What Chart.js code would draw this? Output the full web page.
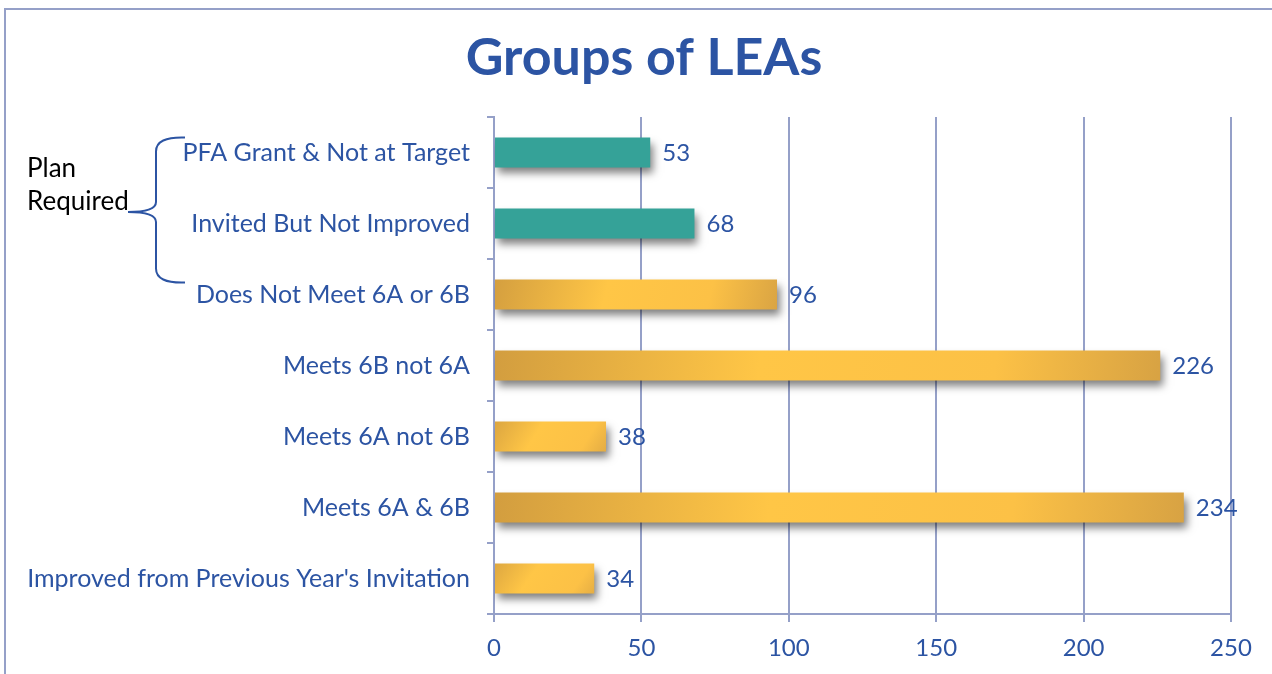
<!DOCTYPE html>
<html>
<head>
<meta charset="utf-8">
<script src="https://cdn.jsdelivr.net/npm/chart.js@4"></script>
<style>
  body { margin: 0; background: #fff; }
  #frame { position: absolute; left: 4px; top: 8px; width: 1268px; height: 666px;
           border-top: 2px solid #95a0c8; border-left: 2px solid #95a0c8; }
  #grafico { position: absolute; left: 0; top: 0; }
</style>
</head>
<body>
<div id="frame"></div>
<canvas id="grafico" width="1272" height="674"></canvas>
<script>
// Datos del gráfico
const titulo = 'Groups of LEAs';
const categorias = [
    'PFA Grant & Not at Target',
    'Invited But Not Improved',
    'Does Not Meet 6A or 6B',
    'Meets 6B not 6A',
    'Meets 6A not 6B',
    'Meets 6A & 6B',
    "Improved from Previous Year's Invitation"
];
const valores = [53, 68, 96, 226, 38, 234, 34];
const grupoPlan = [true, true, false, false, false, false, false]; // barras verdes
const ticksX = [0, 50, 100, 150, 200, 250];

const azul = '#2c54a3';
const rejilla = '#95a0c8';
const fuente = 'Lato, "Open Sans", sans-serif';

function colorBarra(ctx) {
    const chart = ctx.chart;
    if (grupoPlan[ctx.dataIndex]) return '#35a298';
    if (!chart.chartArea) return '#fcc247';
    const x = chart.scales.x, y = chart.scales.y;
    const x0 = x.getPixelForValue(0);
    const x1 = x.getPixelForValue(valores[ctx.dataIndex]);
    const yc = y.getPixelForValue(ctx.dataIndex);
    const g = chart.ctx.createLinearGradient(x0, yc - 35, x1, yc + 35);
    g.addColorStop(0, '#d29d3f');
    g.addColorStop(0.4, '#ffc646');
    g.addColorStop(0.75, '#fcc146');
    g.addColorStop(1, '#d7a243');
    return g;
}

// sombra de las barras
const sombra = {
    id: 'sombra',
    beforeDatasetDraw(chart) {
        const c = chart.ctx;
        c.save();
        c.shadowColor = 'rgba(0,0,0,0.5)';
        c.shadowBlur = 8;
        c.shadowOffsetX = 3;
        c.shadowOffsetY = 6;
    },
    afterDatasetDraw(chart) {
        chart.ctx.restore();
    }
};

// etiquetas de valor y título
const etiquetas = {
    id: 'etiquetas',
    afterDatasetsDraw(chart) {
        const c = chart.ctx;
        const meta = chart.getDatasetMeta(0);
        c.save();
        c.font = '24px ' + fuente;
        c.fillStyle = azul;
        c.textAlign = 'left';
        c.textBaseline = 'middle';
        meta.data.forEach((bar, i) => {
            c.fillText(String(valores[i]), bar.x + 12, bar.y + 1);
        });
        c.font = 'bold 52px ' + fuente;
        c.textAlign = 'center';
        c.fillText(titulo, 644, 58);
        c.restore();
    }
};

// llave "Plan Required"
const llave = {
    id: 'llave',
    afterDraw(chart) {
        const c = chart.ctx;
        const y = chart.scales.y;
        const top = y.getPixelForValue(0) - 15;
        const bot = y.getPixelForValue(2) - 12;
        const mid = (top + bot) / 2 + 2;
        const xt = 185, xv = 156, xm = 128;
        c.save();
        c.strokeStyle = azul;
        c.lineWidth = 2;
        c.beginPath();
        c.moveTo(xt, top);
        c.quadraticCurveTo(xv, top - 1, xv, top + 14);
        c.lineTo(xv, mid - 10);
        c.quadraticCurveTo(xv, mid, xm, mid);
        c.quadraticCurveTo(xv, mid, xv, mid + 10);
        c.lineTo(xv, bot - 14);
        c.quadraticCurveTo(xv, bot + 1, xt, bot);
        c.stroke();
        c.font = '26px ' + fuente;
        c.fillStyle = '#000';
        c.textBaseline = 'middle';
        c.fillText('Plan', 27, mid - 43);
        c.fillText('Required', 27, mid - 10);
        c.restore();
    }
};

const ctx = document.getElementById('grafico').getContext('2d');
new Chart(ctx, {
    type: 'bar',
    data: {
        labels: categorias,
        datasets: [{
            data: valores,
            backgroundColor: colorBarra,
            borderWidth: 0,
            barPercentage: 0.42,
            categoryPercentage: 1
        }]
    },
    plugins: [sombra, etiquetas, llave],
    options: {
        indexAxis: 'y',
        responsive: false,
        animation: false,
        layout: { padding: { left: 0, right: 41, top: 117, bottom: 0 } },
        plugins: {
            legend: { display: false },
            tooltip: { enabled: false },
            title: { display: false }
        },
        scales: {
            x: {
                min: 0,
                max: 250,
                afterBuildTicks: (scale) => { scale.ticks = ticksX.map(v => ({ value: v })); },
                afterFit: (scale) => { scale.height = 60; },
                grid: { color: rejilla, lineWidth: 2, tickLength: 8 },
                border: { color: rejilla, width: 2 },
                ticks: { color: azul, font: { family: fuente, size: 24 }, padding: 12 }
            },
            y: {
                afterFit: (scale) => { scale.width = 494; },
                grid: { offset: true, drawOnChartArea: false, color: rejilla, lineWidth: 2, tickLength: 7 },
                border: { color: rejilla, width: 2 },
                ticks: { color: azul, font: { family: fuente, size: 25 }, padding: 17 }
            }
        }
    }
});
</script>
</body>
</html>
